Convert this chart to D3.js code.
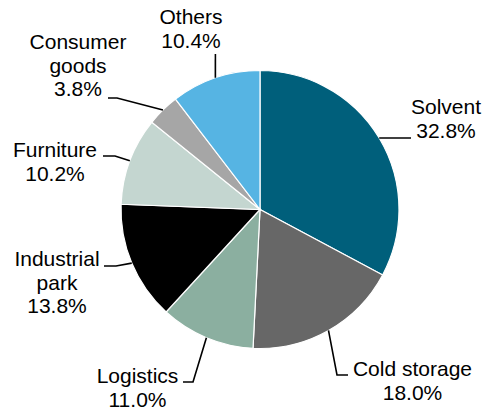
<!DOCTYPE html>
<html>
<head>
<meta charset="utf-8">
<script src="https://cdn.jsdelivr.net/npm/d3@7"></script>
<style>
  html, body { margin: 0; padding: 0; background: #fff; }
  svg { display: block; }
  text { font-family: "Liberation Sans", Arial, sans-serif; font-size: 21px; fill: #000; }
</style>
</head>
<body>
<svg id="chart" width="490" height="412"></svg>
<script>
// Share of demand by end use (%), clockwise from 12 o'clock
const categories = ["Solvent", "Cold storage", "Logistics", "Industrial park", "Furniture", "Consumer goods", "Others"];
const shares = [32.8, 18.0, 11.0, 13.8, 10.2, 3.8, 10.4];
const colors = ["#005F7B", "#676767", "#8BAFA0", "#000000", "#C4D6D0", "#A6A6A6", "#56B4E3"];

// Label text broken into lines, and where each label block sits
const labelLines = {
  "Solvent": ["Solvent"],
  "Cold storage": ["Cold storage"],
  "Logistics": ["Logistics"],
  "Industrial park": ["Industrial", "park"],
  "Furniture": ["Furniture"],
  "Consumer goods": ["Consumer", "goods"],
  "Others": ["Others"]
};
// x: text centre, y: first baseline, leader: bend points after the slice edge
const labelLayout = {
  "Solvent":         { x: 446,   y: 114, leader: [[411, 138]], end: "h" },
  "Cold storage":    { x: 412.5, y: 376, leader: [[337, 375], [348, 375]] },
  "Logistics":       { x: 137.5, y: 383, leader: [[193, 382], [183, 382]] },
  "Industrial park": { x: 57,    y: 266, leader: [[116, 266], [104, 266]] },
  "Furniture":       { x: 55,    y: 157, leader: [[115, 156], [103, 156]] },
  "Consumer goods":  { x: 78,    y: 49,  leader: [[117, 98], [108, 98]] },
  "Others":          { x: 191,   y: 24,  leader: [[215.4, 54]] }
};

const data = categories.map((c, i) => ({ name: c, value: shares[i], color: colors[i] }));

const svg = d3.select("#chart");
const cx = 260, cy = 209.5, radius = 139;
const g = svg.append("g").attr("transform", `translate(${cx},${cy})`);

const pie = d3.pie().value(d => d.value).sort(null);
const arc = d3.arc().innerRadius(0).outerRadius(radius);
const arcs = pie(data);

g.selectAll("path.slice")
  .data(arcs)
  .join("path")
  .attr("class", "slice")
  .attr("d", arc)
  .attr("fill", d => d.data.color)
  .attr("stroke", "#fff")
  .attr("stroke-width", 1.2);

// Leader lines start on the rim at each slice's mid-angle
const line = d3.line();
arcs.forEach(a => {
  const mid = (a.startAngle + a.endAngle) / 2;
  const start = [cx + radius * Math.sin(mid), cy - radius * Math.cos(mid)];
  const lay = labelLayout[a.data.name];
  const pts = [start].concat(lay.leader);
  svg.append("path")
    .attr("d", line(pts))
    .attr("fill", "none")
    .attr("stroke", "#000")
    .attr("stroke-width", 1.6);

  const lines = labelLines[a.data.name].concat([a.data.value.toFixed(1) + "%"]);
  const t = svg.append("text")
    .attr("text-anchor", "middle")
    .attr("x", lay.x)
    .attr("y", lay.y);
  lines.forEach((s, i) => {
    t.append("tspan")
      .attr("x", lay.x)
      .attr("dy", i === 0 ? 0 : 23.5)
      .text(s);
  });
});
</script>
</body>
</html>
